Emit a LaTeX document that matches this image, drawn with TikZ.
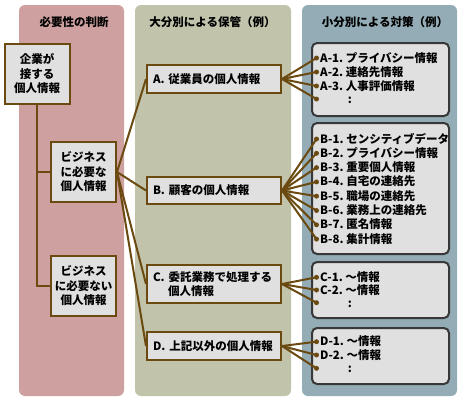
\documentclass[tikz,border=0pt]{standalone}
\usepackage{fontspec}
\setmainfont{Noto Sans CJK JP}
\definecolor{pinkc}{HTML}{CFA0A0}
\definecolor{olivec}{HTML}{C1C4AB}
\definecolor{bluec}{HTML}{93ACB6}
\definecolor{boxf}{HTML}{E0E0E0}
\definecolor{brn}{HTML}{6B4A12}
\definecolor{dgray}{HTML}{383838}
\newcommand\myfs{\fontsize{11.5}{14.5}\selectfont\bfseries}
\tikzset{
  colbg/.style={rounded corners=6pt},
  hdr/.style={inner sep=0, font=\myfs},
  lbox/.style={draw=brn, line width=2pt, fill=boxf, inner sep=0, align=center,
    minimum width=65pt, minimum height=60pt, font=\myfs},
  mbox/.style={draw=brn, line width=2pt, fill=boxf, inner xsep=6pt, inner ysep=0,
    text width=122pt, align=left, font=\myfs},
  rbox/.style={draw=dgray, line width=2pt, fill=boxf, rounded corners=5pt,
    inner sep=0, minimum width=137pt},
  conn/.style={draw=brn, line width=2pt},
  dotn/.style={circle, fill=brn, inner sep=0, minimum size=5pt},
  item/.style={anchor=base west, inner sep=0, font=\myfs},
  colon/.style={anchor=base, inner sep=0, font=\myfs},
}
\begin{document}
\begin{tikzpicture}[x=1pt,y=-1pt]
\useasboundingbox (0,0) rectangle (460,400);
% columns
\fill[pinkc, colbg] (19,5) rectangle (124,396);
\fill[olivec, colbg] (135,5) rectangle (291,396);
\fill[bluec, colbg] (302,5) rectangle (457,396);
% headers
\node[hdr] (h1) at (74,22) {必要性の判断};
\node[hdr] (h2) at (212.5,22) {大分別による保管（例）};
\node[hdr] (h3) at (385,22) {小分別による対策（例）};
% left boxes
\node[lbox] (k1) at (37,74) {企業が\\接する\\個人情報};
\node[lbox] (k2) at (83.5,172) {ビジネス\\に必要な\\個人情報};
\node[lbox] (k3) at (83.5,286) {ビジネス\\に必要ない\\個人情報};
\draw[conn] (k1.south) -- (k1.south |- k3.west) -- (k3.west);
\draw[conn] (k1.south |- k2.west) -- (k2.west);
% middle boxes
\node[mbox, minimum height=28pt] (A) at (214,79) {A.\ 従業員の個人情報};
\node[mbox, minimum height=27pt] (B) at (214,190.5) {B.\ 顧客の個人情報};
\node[mbox, minimum height=38pt] (C) at (214,284) {C.\ 委託業務で処理する\\\hspace*{15pt}個人情報};
\node[mbox, minimum height=28pt] (D) at (214,346) {D.\ 上記以外の個人情報};
\foreach \m in {A,B,C,D} { \draw[conn] (k2.east) -- (\m.west); }
% right boxes
\node[rbox, minimum height=73pt] (RA) at (380.5,79.5) {};
\node[rbox, minimum height=131pt] (RB) at (380.5,188.5) {};
\node[rbox, minimum height=56pt] (RC) at (380.5,290) {};
\node[rbox, minimum height=56pt] (RD) at (380.5,356) {};
% A items
\foreach \i/\y/\t in {1/58/{A-1.\ プライバシー情報}, 2/72/{A-2.\ 連絡先情報}, 3/86/{A-3.\ 人事評価情報}, 4/99/{}} {
  \draw[conn] (A.east) -- (316.5,\y) node[dotn] (ad\i) {};
  \node[item] (at\i) at (320,\y+4) {\t};
}
\node[colon] (ac) at (350,103) {:};
% B items
\foreach \i/\y/\t in {1/139/{B-1.\ センシティブデータ}, 2/153.3/{B-2.\ プライバシー情報}, 3/167.6/{B-3.\ 重要個人情報}, 4/181.9/{B-4.\ 自宅の連絡先}, 5/196.2/{B-5.\ 職場の連絡先}, 6/210.5/{B-6.\ 業務上の連絡先}, 7/224.8/{B-7.\ 匿名情報}, 8/239.1/{B-8.\ 集計情報}} {
  \draw[conn] (B.east) -- (316.5,\y) node[dotn] (bd\i) {};
  \node[item] (bt\i) at (320,\y+4) {\t};
}
% C items
\foreach \i/\y/\t in {1/277.3/{C-1.\ ～情報}, 2/290/{C-2.\ ～情報}, 3/302.7/{}} {
  \draw[conn] (C.east) -- (316.5,\y) node[dotn] (cd\i) {};
  \node[item] (ct\i) at (320,\y+4) {\t};
}
\node[colon] (cc) at (350,307) {:};
% D items
\foreach \i/\y/\t in {1/341.7/{D-1.\ ～情報}, 2/355/{D-2.\ ～情報}, 3/368.3/{}} {
  \draw[conn] (D.east) -- (316.5,\y) node[dotn] (dd\i) {};
  \node[item] (dt\i) at (320,\y+4) {\t};
}
\node[colon] (dc) at (350,372) {:};
\end{tikzpicture}
\end{document}
